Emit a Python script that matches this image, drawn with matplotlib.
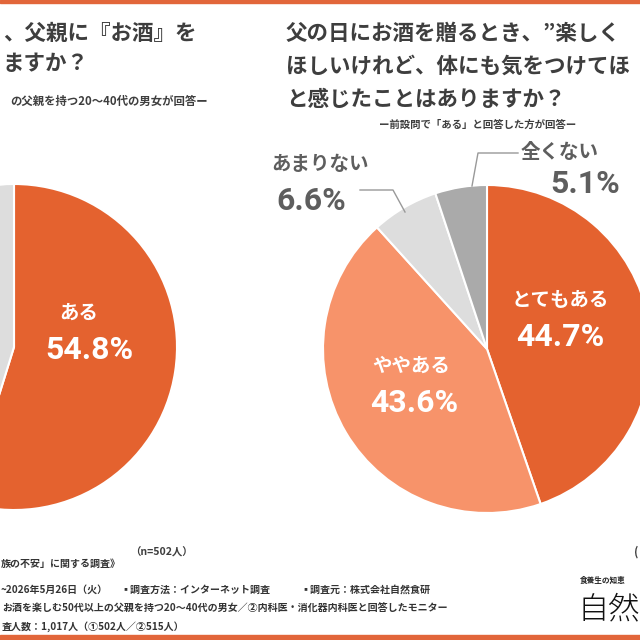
import matplotlib
matplotlib.use("Agg")
import matplotlib.pyplot as plt
from matplotlib.patches import Rectangle

plt.rcParams['font.family'] = ['Noto Sans CJK JP', 'DejaVu Sans']

# データ
left_labels = ['ある', 'ない']
left_values = [54.8, 45.2]
right_labels = ['とてもある', 'ややある', 'あまりない', '全くない']
right_values = [44.7, 43.6, 6.6, 5.1]

orange = '#E4622F'
salmon = '#F7936A'
lgray = '#DDDDDD'
dgray = '#AAAAAA'
txt = '#3E3E3E'
W = H = 640


def fx(px):
    return px / W


def fy(py):
    return 1 - py / H


fig = plt.figure(figsize=(6.4, 6.4), dpi=100)
fig.patch.set_facecolor('white')

# 上下のオレンジ帯
fig.patches.append(Rectangle((0, fy(3)), 1, 3 / H, transform=fig.transFigure,
                             color='#E2663A', zorder=0))
fig.patches.append(Rectangle((0, 0), 1, 5 / H, transform=fig.transFigure,
                             color='#E2663A', zorder=0))


def pie_axes(cx, cy, r):
    ax = fig.add_axes([fx(cx - r), fy(cy + r), 2 * r / W, 2 * r / H])
    ax.set_xlim(-1, 1)
    ax.set_ylim(-1, 1)
    ax.set_aspect('equal')
    ax.axis('off')
    return ax


# 左の円グラフ
axl = pie_axes(14, 347, 163)
axl.pie(left_values, colors=[orange, lgray], startangle=90, counterclock=False,
        radius=1, wedgeprops=dict(edgecolor='white', linewidth=1.5))
axl.set_xlim(-1, 1)
axl.set_ylim(-1, 1)
axl.text(0.40, 0.21, left_labels[0], color='white', fontsize=14, fontweight='bold',
         ha='center', va='center')
axl.text(0.46, -0.02, f'{left_values[0]}%', color='white', fontsize=23, fontweight='bold',
         family=['Roboto', 'Noto Sans CJK JP'], ha='center', va='center')

# 右の円グラフ
rcx, rcy, rr = 487, 349, 164
axr = pie_axes(rcx, rcy, rr)
axr.pie(right_values, colors=[orange, salmon, lgray, dgray], startangle=90,
        counterclock=False, radius=1,
        wedgeprops=dict(edgecolor='white', linewidth=1.5))
axr.set_xlim(-1, 1)
axr.set_ylim(-1, 1)


def rp(px, py):
    return (px - rcx) / rr, (rcy - py) / rr


num_font = ['Roboto', 'Noto Sans CJK JP']
for lab, val, (lx, ly), (nx, ny) in [
        (right_labels[0], right_values[0], (560, 301), (560, 337)),
        (right_labels[1], right_values[1], (411, 366), (414, 403))]:
    axr.text(*rp(lx, ly), lab, color='white', fontsize=14, fontweight='bold',
             ha='center', va='center')
    axr.text(*rp(nx, ny), f'{val}%', color='white', fontsize=23, fontweight='bold',
             family=num_font, ha='center', va='center')

gtxt = '#5E5E5E'
axr.text(*rp(320, 165), right_labels[2], color=gtxt, fontsize=14, fontweight='bold',
         ha='center', va='center', clip_on=False)
axr.text(*rp(311, 201), f'{right_values[2]}%', color=gtxt, fontsize=23, fontweight='bold',
         family=num_font, ha='center', va='center', clip_on=False)
axr.text(*rp(560, 152), right_labels[3], color=gtxt, fontsize=14, fontweight='bold',
         ha='center', va='center', clip_on=False)
axr.text(*rp(585, 184), f'{right_values[3]}%', color=gtxt, fontsize=23, fontweight='bold',
         family=num_font, ha='center', va='center', clip_on=False)

# 引き出し線
p = [rp(360, 190), rp(393, 190), rp(405, 212)]
axr.plot([q[0] for q in p], [q[1] for q in p], color='#999999', lw=1, clip_on=False)
p = [rp(472, 186), rp(478, 153), rp(518, 153)]
axr.plot([q[0] for q in p], [q[1] for q in p], color='#999999', lw=1, clip_on=False)

# タイトル（画像の端で切れている部分は省略）
fig.text(fx(197), fy(33), '、父親に『お酒』を', color=txt, fontsize=15.5,
         fontweight='bold', ha='right', va='center')
fig.text(fx(3), fy(64), 'ますか？', color=txt, fontsize=15.5,
         fontweight='bold', ha='left', va='center')
fig.text(fx(208), fy(101), 'の父親を持つ20〜40代の男女が回答ー', color=txt,
         fontsize=8.2, fontweight='bold', ha='right', va='center')

fig.text(fx(286), fy(33), '父の日にお酒を贈るとき、”楽しく', color=txt,
         fontsize=15.5, fontweight='bold', ha='left', va='center')
fig.text(fx(286), fy(66), 'ほしいけれど、体にも気をつけてほ', color=txt,
         fontsize=15.5, fontweight='bold', ha='left', va='center')
fig.text(fx(286), fy(99), 'と感じたことはありますか？', color=txt,
         fontsize=15.5, fontweight='bold', ha='left', va='center')
fig.text(fx(478), fy(125), 'ー前設問で「ある」と回答した方が回答ー', color=txt,
         fontsize=7.5, fontweight='bold', ha='center', va='center')

# n数
fig.text(fx(161), fy(552), '（n=502人）', color=txt, fontsize=7.5, fontweight='bold',
         ha='center', va='center')
fig.text(fx(634), fy(552), '(', color=txt, fontsize=8, fontweight='bold',
         ha='left', va='center')

# 調査概要
foot = dict(color='#333333', fontsize=7.2, fontweight='bold', va='center')
fig.text(fx(1), fy(564), '族の不安」に関する調査》', ha='left', **foot)
fig.text(fx(1), fy(590), '~2026年5月26日（火）', ha='left', **foot)
fig.text(fx(120), fy(590), '▪調査方法：インターネット調査', ha='left', **foot)
fig.text(fx(300), fy(590), '▪調査元：株式会社自然食研', ha='left', **foot)
fig.text(fx(2), fy(609),
         'お酒を楽しむ50代以上の父親を持つ20〜40代の男女／②内科医・消化器内科医と回答したモニター',
         ha='left', **foot)
fig.text(fx(2), fy(627), '査人数：1,017人（①502人／②515人）', ha='left', **foot)

# ロゴ
fig.text(fx(580), fy(580), '食養生の知恵', color='#222222', fontsize=5.5,
         fontweight='bold', ha='left', va='center')
fig.text(fx(578), fy(609), '自然', color='#111111', fontsize=22.5,
         fontweight='light', ha='left', va='center')

fig.savefig('out.png', dpi=100)
